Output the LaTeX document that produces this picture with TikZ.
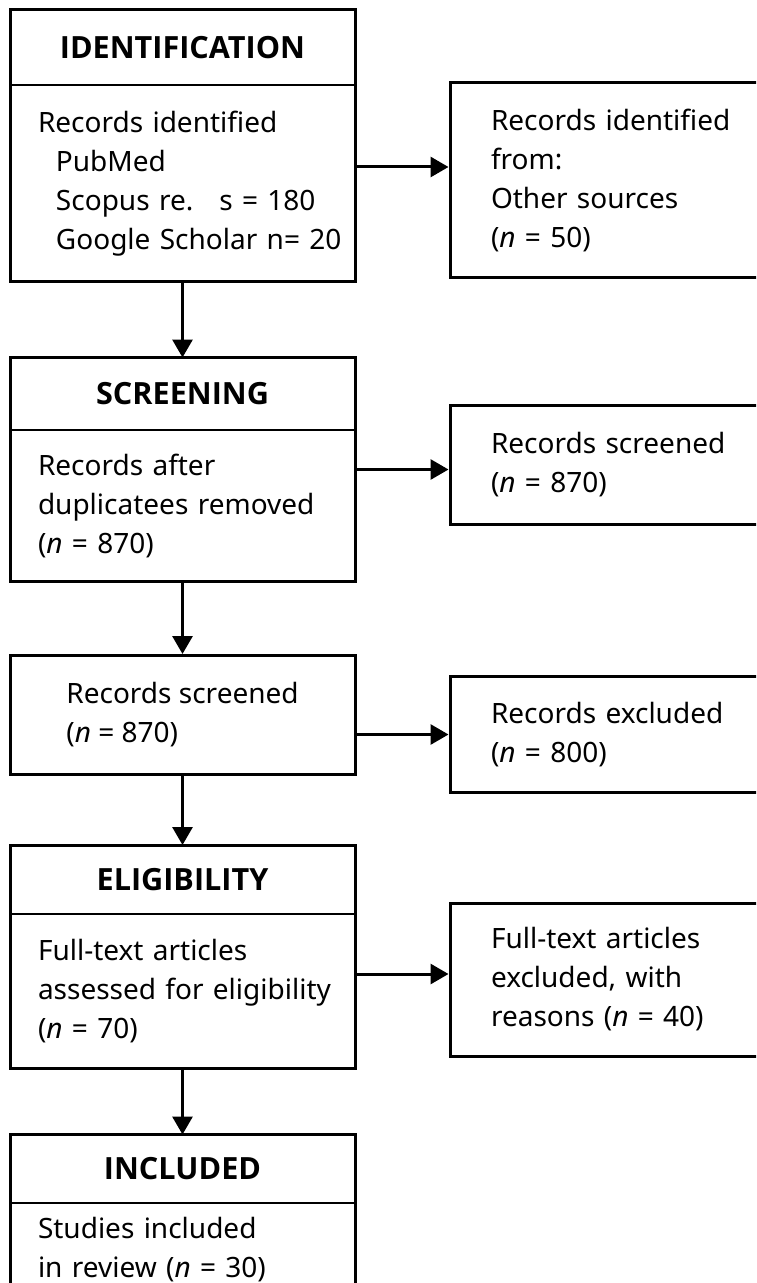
\documentclass[tikz,border=0pt]{standalone}
\usepackage{fontspec}
\setmainfont{Noto Sans}
\newfontfamily\headfont{Open Sans}
\usepackage{tikz}
\usetikzlibrary{arrows.meta,positioning,fit}

\begin{document}
\begin{tikzpicture}[font=\fontsize{14}{19.5}\selectfont,node distance=35pt and 46pt,head/.style={draw,line width=1pt,outer sep=0pt,minimum width=172.5pt,inner sep=0pt,font=\headfont\fontsize{15.3}{18}\selectfont\bfseries},body/.style={text width=165pt,inner xsep=14pt,inner ysep=0pt,outer sep=0pt,align=left},stagebox/.style={draw,line width=1.5pt,inner sep=0pt,fit=#1},sidebox/.style={draw,line width=1.5pt,text width=124pt,inner xsep=20.5pt,align=left},arr/.style={-{Triangle[length=9pt,width=10pt]},line width=1.5pt}]
\useasboundingbox (0,0) rectangle (378pt,-641.5pt);
\clip (0,0) rectangle (378pt,-641.5pt);
% left column
\node[head,minimum height=37.5pt,anchor=north west] (hIdent) at (5pt,-5pt) {IDENTIFICATION};
\node[body,minimum height=98.5pt,below=0pt of hIdent.south west,anchor=north west] (bIdent) {Records identified\\\hspace*{9pt}PubMed\\\hspace*{9pt}Scopus re.\hspace{13pt}s = 180\\\hspace*{9pt}Google Scholar n= 20};
\node[stagebox=(hIdent)(bIdent.south)] (fIdent) {};
\node[head,minimum height=36pt,below=37pt of fIdent] (hScreen) {SCREENING};
\node[body,minimum height=76pt,below=0pt of hScreen.south west,anchor=north west] (bScreen) {Records after\\duplicatees removed\\(\textit{n} = 870)};
\node[stagebox=(hScreen)(bScreen.south)] (fScreen) {};
\node[draw,line width=1.5pt,minimum width=172.5pt,minimum height=59.5pt,align=left,below=35.5pt of fScreen] (screened) {Records screened\\(\textit{n} = 870)};
\node[head,minimum height=34.5pt,below=34.5pt of screened] (hElig) {ELIGIBILITY};
\node[body,minimum height=77pt,below=0pt of hElig.south west,anchor=north west] (bElig) {Full-text articles\\assessed for eligibility\\(\textit{n} = 70)};
\node[stagebox=(hElig)(bElig.south)] (fElig) {};
\node[head,minimum height=34pt,below=32.5pt of fElig] (hIncl) {INCLUDED};
\node[body,minimum height=47pt,below=0pt of hIncl.south west,anchor=north west] (bIncl) {Studies included\\in review (\textit{n} = 30)};
\node[stagebox=(hIncl)(bIncl.south)] (fIncl) {};
% right column
\node[sidebox,minimum height=97.5pt,right=46pt of fIdent,yshift=-17.25pt] (rIdent) {Records identified\\from:\\Other sources\\(\textit{n} = 50)};
\node[sidebox,minimum height=59.5pt,right=46pt of fScreen,yshift=2.25pt] (rScreen) {Records screened\\(\textit{n} = 870)};
\node[sidebox,minimum height=58pt,right=46pt of screened,yshift=-9.75pt] (rExcl) {Records excluded\\(\textit{n} = 800)};
\node[sidebox,minimum height=76.5pt,right=46pt of fElig,yshift=-11.5pt] (rFull) {Full-text articles\\excluded, with\\reasons (\textit{n} = 40)};
\coordinate (aIdent) at ([yshift=6.75pt]rIdent.west);
\coordinate (aFull) at ([yshift=2.75pt]rFull.west);
\draw[arr] (fIdent)--(hScreen);\draw[arr] (fScreen)--(screened);\draw[arr] (screened)--(hElig);\draw[arr] (fElig)--(hIncl);
\draw[arr] (aIdent -| fIdent.east)--(aIdent);\draw[arr] (fScreen.east)--(fScreen.east -| rScreen.west);\draw[arr] (rExcl.west -| screened.east)--(rExcl.west);\draw[arr] (aFull -| fElig.east)--(aFull);
\end{tikzpicture}
\end{document}
